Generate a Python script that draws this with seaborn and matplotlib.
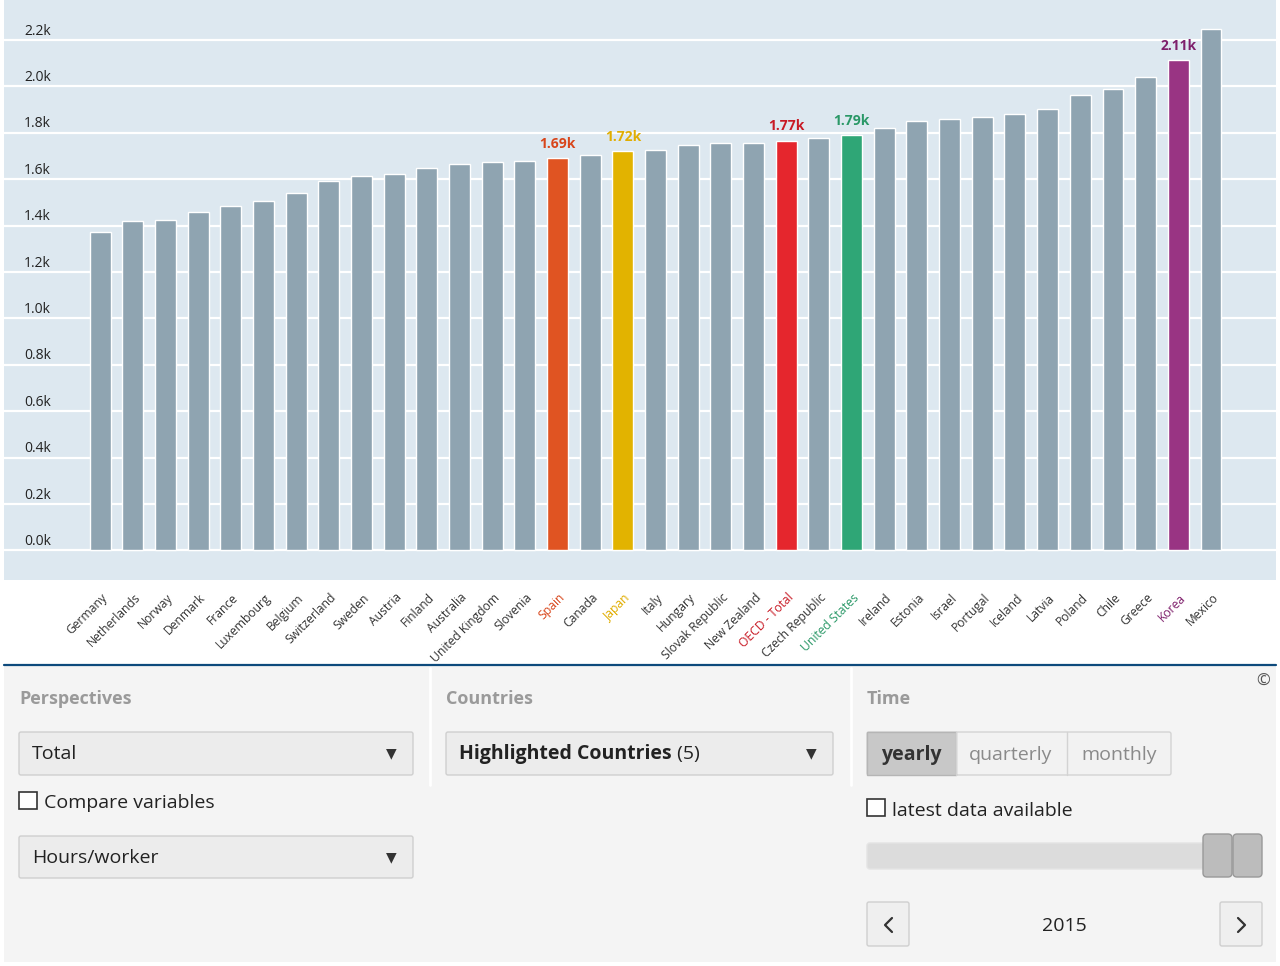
import matplotlib
matplotlib.use("Agg")
import matplotlib.pyplot as plt
import matplotlib.transforms as mtransforms
from matplotlib.patches import Rectangle, FancyBboxPatch
import seaborn as sns


COUNTRIES = [
    "Germany", "Netherlands", "Norway", "Denmark", "France", "Luxembourg",
    "Belgium", "Switzerland", "Sweden", "Austria", "Finland", "Australia",
    "United Kingdom", "Slovenia", "Spain", "Canada", "Japan", "Italy",
    "Hungary", "Slovak Republic", "New Zealand", "OECD - Total",
    "Czech Republic", "United States", "Ireland", "Estonia", "Israel",
    "Portugal", "Iceland", "Latvia", "Poland", "Chile", "Greece", "Korea",
    "Mexico",
]
HOURS = [
    1371, 1419, 1424, 1457, 1482, 1507, 1541, 1590, 1612, 1624, 1646, 1665,
    1674, 1676, 1691, 1706, 1719, 1725, 1749, 1754, 1757, 1766, 1779, 1790,
    1820, 1852, 1858, 1868, 1880, 1903, 1963, 1988, 2042, 2113, 2246,
]
HIGHLIGHT_BAR = {
    "Spain": "#e05422",
    "Japan": "#e2b300",
    "OECD - Total": "#e5262d",
    "United States": "#2fa676",
    "Korea": "#993483",
}
HIGHLIGHT_TEXT = {
    "Spain": "#d8451a",
    "Japan": "#e0ad00",
    "OECD - Total": "#c81a25",
    "United States": "#2a9867",
    "Korea": "#7e1f6b",
}
Y_TICKS = [0, 200, 400, 600, 800, 1000, 1200, 1400, 1600, 1800, 2000, 2200]

BASE_GREY = "#8fa4b1"
W, H = 1280, 966

sns.set_theme(style="white")
plt.rcParams["font.family"] = ["Open Sans", "DejaVu Sans"]

fig = plt.figure(figsize=(W / 100, H / 100), dpi=100)
fig.patch.set_facecolor("white")

# chart area
ax = fig.add_axes([4 / W, 1 - 580 / H, 1272 / W, 580 / H])
ax.set_facecolor("#dde8f0")

palette = {c: HIGHLIGHT_BAR.get(c, BASE_GREY) for c in COUNTRIES}
sns.barplot(x=COUNTRIES, y=HOURS, hue=COUNTRIES, palette=palette,
            legend=False, width=0.64, saturation=1, ax=ax, zorder=2)

ax.set_xlim(-2.94, 35.99)
ax.set_ylim(-128, 2372)
ax.set_yticks(Y_TICKS)
ax.grid(axis="y", color="white", linewidth=1.6, zorder=0)
ax.grid(axis="x", visible=False)
ax.set_axisbelow(True)
ax.tick_params(left=False, labelleft=False, bottom=False, pad=2)
for s in ax.spines.values():
    s.set_visible(False)

for v in Y_TICKS:
    ax.annotate(f"{v / 1000:.1f}k", xy=(0.0157, v),
                xycoords=("axes fraction", "data"), xytext=(0, 1),
                textcoords="offset points", ha="left", va="bottom",
                fontsize=10, color="#222222")

ax.set_xticks(range(len(COUNTRIES)))
ax.set_xticklabels(COUNTRIES, rotation=45, ha="right",
                   rotation_mode="anchor", fontsize=8.7)
shift = mtransforms.ScaledTranslation(1 / 100, 0, fig.dpi_scale_trans)
for lbl in ax.get_xticklabels():
    lbl.set_transform(lbl.get_transform() + shift)
    lbl.set_color(HIGHLIGHT_TEXT.get(lbl.get_text(), "#333333"))
ax.set_xlabel("")
ax.set_ylabel("")

for i, (c, v) in enumerate(zip(COUNTRIES, HOURS)):
    if c in HIGHLIGHT_TEXT:
        ax.text(i, v + 32, f"{v / 1000:.2f}k", ha="center", va="bottom",
                fontsize=10, fontweight="bold", color=HIGHLIGHT_TEXT[c])

# control panel drawn in pixel coordinates
ui = fig.add_axes([0, 0, 1, 1], zorder=-1)
ui.set_xlim(0, W)
ui.set_ylim(H, 0)
ui.axis("off")

ui.add_patch(Rectangle((4, 666), 1272, 296, facecolor="#f4f4f4",
                       edgecolor="none"))
ui.plot([4, 1276], [665, 665], color="#0d4a7c", lw=1.6)
for xs in (430, 851):
    ui.plot([xs, xs], [668, 785], color="white", lw=2)

header_kw = dict(fontsize=13, fontweight="bold", color="#9a9a9a",
                 va="center", ha="left")
ui.text(19, 699, "Perspectives", **header_kw)
ui.text(446, 699, "Countries", **header_kw)
ui.text(867, 699, "Time", **header_kw)
ui.text(1263, 682, "\u00a9", fontsize=12, color="#555555",
        ha="center", va="center")


def dropdown(x0, x1, y0, y1):
    ui.add_patch(FancyBboxPatch((x0, y0), x1 - x0, y1 - y0,
                                boxstyle="round,pad=0,rounding_size=2",
                                facecolor="#ececec", edgecolor="#cfcfcf",
                                lw=1))
    ui.text(x1 - 22, (y0 + y1) / 2, "\u25bc", fontsize=10, color="#333333",
            ha="center", va="center", family="DejaVu Sans")


body_kw = dict(fontsize=14, color="#222222", va="center", ha="left")

dropdown(19, 413, 732, 775)
ui.text(32, 754, "Total", **body_kw)
ui.add_patch(Rectangle((19, 792), 18, 17, facecolor="white",
                       edgecolor="#333333", lw=1.2))
ui.text(44, 803, "Compare variables", **body_kw)
dropdown(19, 413, 836, 878)
ui.text(32, 858, "Hours/worker", **body_kw)

dropdown(446, 833, 732, 775)
t = ui.text(459, 754, "Highlighted Countries", fontsize=14,
            fontweight="bold", color="#222222", va="center", ha="left")
ui.annotate(" (5)", xy=(1, 0.5), xycoords=t, va="center", ha="left",
            fontsize=14, color="#222222")

# segmented control
ui.add_patch(FancyBboxPatch((867, 732), 304, 43,
                            boxstyle="round,pad=0,rounding_size=2",
                            facecolor="#f2f2f2", edgecolor="#d3d3d3", lw=1))
ui.add_patch(Rectangle((867, 732), 89, 43, facecolor="#c8c8c8",
                       edgecolor="#b5b5b5", lw=1))
for xs in (956, 1067):
    ui.plot([xs, xs], [732, 775], color="#d3d3d3", lw=1)
ui.text(911, 755, "yearly", fontsize=14, fontweight="bold", color="#333333",
        ha="center", va="center")
ui.text(1011, 755, "quarterly", fontsize=14, color="#8a8a8a",
        ha="center", va="center")
ui.text(1119, 755, "monthly", fontsize=14, color="#8a8a8a",
        ha="center", va="center")

ui.add_patch(Rectangle((867, 799), 18, 17, facecolor="white",
                       edgecolor="#333333", lw=1.2))
ui.text(892, 811, "latest data available", **body_kw)

# slider
ui.add_patch(FancyBboxPatch((867, 843), 373, 26,
                            boxstyle="round,pad=0,rounding_size=3",
                            facecolor="#dcdcdc", edgecolor="#e4e4e4", lw=1))
for hx in (1203, 1233):
    ui.add_patch(FancyBboxPatch((hx, 834), 29, 43,
                                boxstyle="round,pad=0,rounding_size=4",
                                facecolor="#bcbcbc", edgecolor="#999999",
                                lw=1))

# year stepper
for bx in (867, 1220):
    ui.add_patch(FancyBboxPatch((bx, 902), 42, 44,
                                boxstyle="round,pad=0,rounding_size=2",
                                facecolor="#efefef", edgecolor="#cfcfcf",
                                lw=1))
ui.plot([892, 885, 892], [918, 925, 932], color="#333333", lw=1.6)
ui.plot([1238, 1245, 1238], [918, 925, 932], color="#333333", lw=1.6)
ui.text(1064, 926, "2015", fontsize=14, color="#222222",
        ha="center", va="center")

fig.savefig("out.png", dpi=100)
